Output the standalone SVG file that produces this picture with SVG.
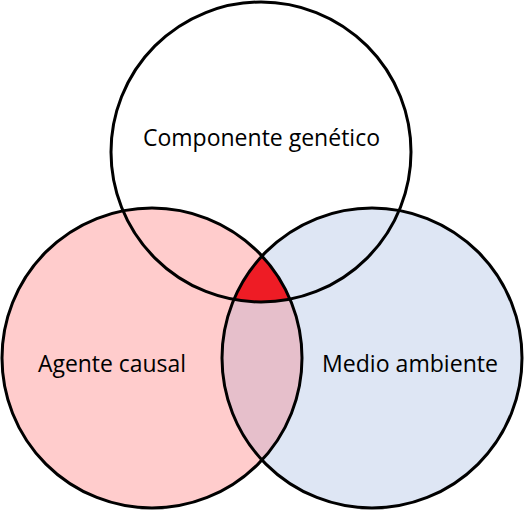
<svg xmlns="http://www.w3.org/2000/svg" width="528" height="512" viewBox="0 0 528 512">
<style>
.ring{fill:none;stroke:#000;stroke-width:3}
.lbl{font-family:"Open Sans","Noto Sans",sans-serif;font-size:23px;fill:#000}
</style>
<defs>
<clipPath id="cR"><circle cx="372" cy="358" r="150"/></clipPath>
<clipPath id="cT"><circle cx="261" cy="152" r="150"/></clipPath>
</defs>
<rect width="528" height="512" fill="#fff"/>
<g id="genetico">
<circle cx="261" cy="152" r="150" fill="#fff"/>
</g>
<g id="agente">
<circle cx="152" cy="358" r="150" fill="#FFCCCC"/>
</g>
<g id="medio">
<circle cx="372" cy="358" r="150" fill="#DEE6F4"/>
</g>
<g id="interseccion">
<g clip-path="url(#cR)"><circle cx="152" cy="358" r="150" fill="#E6BFCB"/></g>
<g clip-path="url(#cT)"><g clip-path="url(#cR)"><circle cx="152" cy="358" r="150" fill="#EE1C25"/></g></g>
</g>
<g id="bordes">
<circle class="ring" cx="261" cy="152" r="150"/>
<circle class="ring" cx="152" cy="358" r="150"/>
<circle class="ring" cx="372" cy="358" r="150"/>
</g>
<g id="textos">
<text class="lbl" x="143" y="146" textLength="237" lengthAdjust="spacingAndGlyphs">Componente genético</text>
<text class="lbl" x="38" y="372" textLength="148" lengthAdjust="spacingAndGlyphs">Agente causal</text>
<text class="lbl" x="322" y="372" textLength="176" lengthAdjust="spacingAndGlyphs">Medio ambiente</text>
</g>
</svg>
